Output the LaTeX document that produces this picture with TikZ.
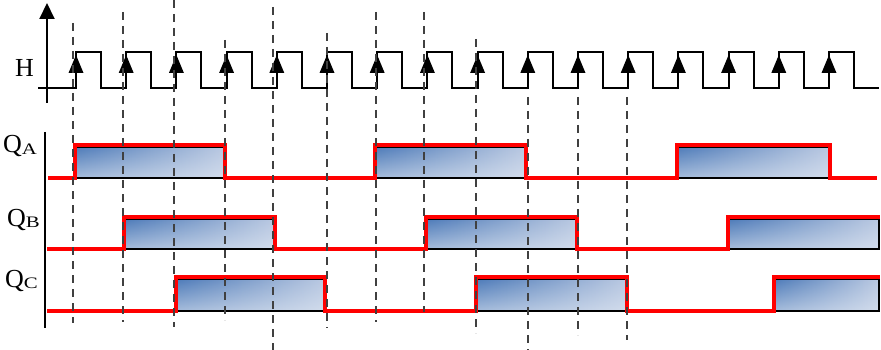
\documentclass[tikz,border=0pt]{standalone}
\usepackage{fontspec}
\setmainfont{Liberation Serif}
\usetikzlibrary{arrows.meta,shadings,fadings}

\definecolor{pulsedark}{RGB}{78,123,185}
\definecolor{pulsemid}{RGB}{186,201,226}
\definecolor{pulselight}{RGB}{226,233,243}
\newcommand{\qsig}[1]{Q\raisebox{-1.5pt}{\scalebox{1.3}[1]{\fontsize{16}{16}\selectfont #1}}}

\begin{document}
\begin{tikzpicture}[
        x=1pt, y=-1pt,
        lab/.style={inner sep=0pt, anchor=base west, font=\fontsize{26}{26}\selectfont},
        axis/.style={line width=2pt, black},
        clk/.style={line width=2pt, black, line join=miter},
        guide/.style={line width=1.2pt, black!75, dash pattern=on 8pt off 6pt},
        pulse/.style={left color=pulsedark, right color=pulsemid},
        haze/.style={fill=pulselight, fill opacity=0.6, path fading=north},
        sig/.style={line width=3.5pt, red, line join=miter}
    ]
        \useasboundingbox (0,0) rectangle (881,350);

        % Labels
        \node[lab] (h) at (15,77) {H};
        \node[lab] (qa) at (3,153) {\qsig{A}};
        \node[lab] (qb) at (7,226) {\qsig{B}};
        \node[lab] (qc) at (5,287) {\qsig{C}};

        % Axes
        \draw[axis, -{Triangle[width=15pt,length=16pt]}] (47,103) -- (47,3);
        \draw[axis] (45,132) -- (45,328);

        % Clock
        \draw[clk] (38,88) foreach \k in {0,...,15} {
            -- ({76+50.2*\k},88) -- ({76+50.2*\k},52) -- ({101+50.2*\k},52) -- ({101+50.2*\k},88)
        } -- (879,88);
        \foreach \k in {0,...,15}
            \fill ({76+50.2*\k},55) -- ({68.5+50.2*\k},73) -- ({83.5+50.2*\k},73) -- cycle;

        % Q_A
        \foreach \a/\b in {75/225, 375/526, 677/830} {
            \shade[pulse] (\a,147) rectangle (\b,178);
            \fill[haze] (\a,147) rectangle (\b,178);
            \draw[line width=1.3pt] (\a,147) rectangle (\b,178);
        }
        \draw[sig] (48,178) -- (75,178) -- (75,145) -- (225,145) -- (225,178) -- (375,178) -- (375,145)
            -- (526,145) -- (526,178) -- (677,178) -- (677,145) -- (830,145) -- (830,178) -- (877,178);

        % Q_B
        \foreach \a/\b in {124/275, 426/577, 728/879} {
            \shade[pulse] (\a,219) rectangle (\b,249);
            \fill[haze] (\a,219) rectangle (\b,249);
            \draw[line width=1.3pt] (\a,219) rectangle (\b,249);
        }
        \draw[sig] (47,249) -- (124,249) -- (124,217) -- (275,217) -- (275,249) -- (426,249) -- (426,217)
            -- (577,217) -- (577,249) -- (728,249) -- (728,217) -- (880,217);

        % Q_C
        \foreach \a/\b in {176/325, 476/627, 774/879} {
            \shade[pulse] (\a,279) rectangle (\b,311);
            \fill[haze] (\a,279) rectangle (\b,311);
            \draw[line width=1.3pt] (\a,279) rectangle (\b,311);
        }
        \draw[sig] (47,311) -- (176,311) -- (176,277) -- (325,277) -- (325,311) -- (476,311) -- (476,277)
            -- (627,277) -- (627,311) -- (774,311) -- (774,277) -- (880,277);

        % Dashed guides at the clock edges
        \foreach \x/\top/\bot in {73/23/323, 123/12/322, 174/0/327, 225/40/320, 273/7/350, 327/33/328,
                376/12/322, 424/12/312, 476/39/333, 528/97/350, 578/97/335, 627/97/340}
            \draw[guide] (\x,\top) -- (\x,\bot);
    \end{tikzpicture}
\end{document}
